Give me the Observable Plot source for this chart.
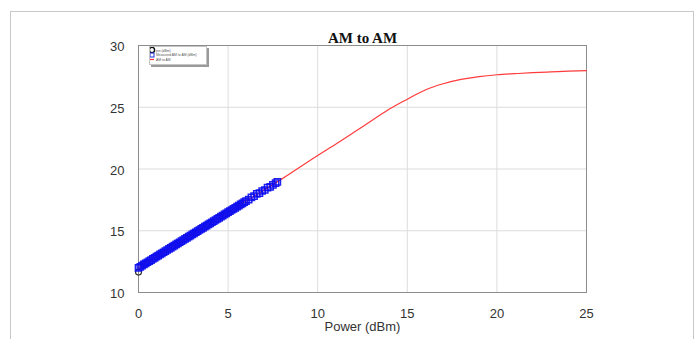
<!DOCTYPE html>
<html>
<head>
<meta charset="utf-8">
<script src="https://cdn.jsdelivr.net/npm/d3@7"></script>
<script src="https://cdn.jsdelivr.net/npm/@observablehq/plot@0.6"></script>
<style>
html,body{margin:0;padding:0;background:#fff;}
#wrap{position:relative;width:697px;height:339px;overflow:hidden;}
#frame{position:absolute;left:10px;top:11px;width:684px;height:340px;border:1px solid #c8c8c8;box-sizing:border-box;}
#chart{position:absolute;left:0;top:0;}
#legend{position:absolute;left:149px;top:46px;width:56px;height:17px;background:#fff;border:1px solid #c4c4c4;box-shadow:2px 2px 0 #9a9a9a;}
</style>
</head>
<body>
<div id="wrap"><div id="frame"></div><div id="chart"></div>
<div id="legend"><svg width="56" height="17" style="position:absolute;left:0;top:0">
<circle cx="2" cy="3" r="2.6" fill="none" stroke="#111" stroke-width="1.4"/>
<rect x="0" y="6" width="4" height="4" fill="none" stroke="#2233dd" stroke-width="1"/>
<line x1="-1" y1="12.5" x2="4" y2="12.5" stroke="#ff3333" stroke-width="1.2"/>
<text x="6" y="4.5" font-size="3.4" font-family="Liberation Sans" fill="#555">pin (dBm)</text>
<text x="6" y="9.2" font-size="3.4" font-family="Liberation Sans" fill="#555">Measured AM to AM (dBm)</text>
<text x="6" y="13.8" font-size="3.4" font-family="Liberation Sans" fill="#555">AM to AM</text>
</svg></div>
</div>
<script>
// Model curve (red line)
const modelPower = [0, 2, 4, 6, 8, 10, 11, 12, 13, 14, 15, 16, 17, 18, 19, 20, 21, 22, 23, 24, 25];
const modelGain  = [12.0, 13.8, 15.6, 17.4, 19.2, 21.1, 22.0, 22.95, 23.9, 24.85, 25.65, 26.4, 26.9, 27.25, 27.48, 27.63, 27.72, 27.8, 27.86, 27.92, 27.97];

// Measured points (blue squares)
const measPower = [0.0,0.1,0.2,0.3,0.4,0.5,0.6,0.7,0.8,0.9,1.0,1.1,1.2,1.3,1.4,1.5,1.6,1.7,1.8,1.9,2.0,2.1,2.2,2.3,2.4,2.5,2.6,2.7,2.8,2.9,3.0,3.1,3.2,3.3,3.4,3.5,3.6,3.7,3.8,3.9,4.0,4.1,4.2,4.3,4.4,4.5,4.6,4.7,4.8,4.9,5.0,5.1,5.2,5.3,5.4,5.5,5.6,5.7,5.8,5.9,6.0,6.15,6.3,6.45,6.6,6.75,6.9,7.05,7.2,7.35,7.5,7.65,7.75];
const measGain  = [12.0,12.08,12.17,12.27,12.36,12.45,12.54,12.62,12.72,12.81,12.9,12.99,13.08,13.17,13.26,13.35,13.44,13.53,13.62,13.71,13.8,13.89,13.98,14.07,14.16,14.25,14.34,14.43,14.52,14.61,14.7,14.79,14.88,14.97,15.06,15.15,15.24,15.33,15.42,15.51,15.6,15.69,15.78,15.87,15.96,16.05,16.14,16.23,16.32,16.41,16.5,16.59,16.68,16.77,16.86,16.95,17.04,17.13,17.22,17.31,17.4,17.52,17.7,17.8,17.98,18.05,18.22,18.3,18.5,18.56,18.72,18.86,18.95];

// Input marker (black circle)
const inPower = [0];
const inGain = [11.65];

const xTicks = [0, 5, 10, 15, 20, 25];
const yTicks = [10, 15, 20, 25, 30];

const model = modelPower.map((p, i) => ({p, g: modelGain[i]}));
const meas = measPower.map((p, i) => ({p, g: measGain[i]}));
const inp = inPower.map((p, i) => ({p, g: inGain[i]}));

const chart = Plot.plot({
  width: 697,
  height: 339,
  marginLeft: 138,
  marginRight: 111,
  marginTop: 45,
  marginBottom: 47,
  style: {background: "transparent", fontFamily: "Liberation Sans, Arial, sans-serif", fontSize: "13px", color: "#333", overflow: "visible"},
  x: {domain: [0, 25], ticks: xTicks, label: null},
  y: {domain: [10, 30], ticks: yTicks, label: null},
  marks: [
    Plot.gridX(xTicks, {stroke: "#dcdcdc", strokeOpacity: 1, strokeWidth: 1}),
    Plot.gridY(yTicks, {stroke: "#dcdcdc", strokeOpacity: 1, strokeWidth: 1}),
    Plot.frame({stroke: "#8c8c8c", strokeWidth: 1}),
    Plot.axisX(xTicks, {tickSize: 0, tickPadding: 16, fontSize: 13, fill: "#333"}),
    Plot.axisY(yTicks, {tickSize: 0, tickPadding: 14, fontSize: 13, fill: "#333", dy: 1.5}),
    Plot.line(model, {x: "p", y: "g", stroke: "#ff3b3b", strokeWidth: 1.2, curve: "monotone-x"}),
    Plot.dot(inp, {x: "p", y: "g", r: 3, stroke: "#333", strokeWidth: 1.2, fill: "none"}),
    Plot.dot(meas, {x: "p", y: "g", symbol: "square", r: 3.5, stroke: "#0a0aee", strokeWidth: 1.5, fill: "none", strokeOpacity: 0.9}),
    Plot.text(["AM to AM"], {frameAnchor: "top", dy: -13, fontWeight: "bold", fontFamily: "Liberation Serif, Times New Roman, serif", fontSize: 15, fill: "#111"}),
    Plot.text(["Power (dBm)"], {frameAnchor: "bottom", dy: 38, fontSize: 13, fill: "#333"})
  ]
});
document.getElementById("chart").appendChild(chart);
</script>
</body>
</html>
